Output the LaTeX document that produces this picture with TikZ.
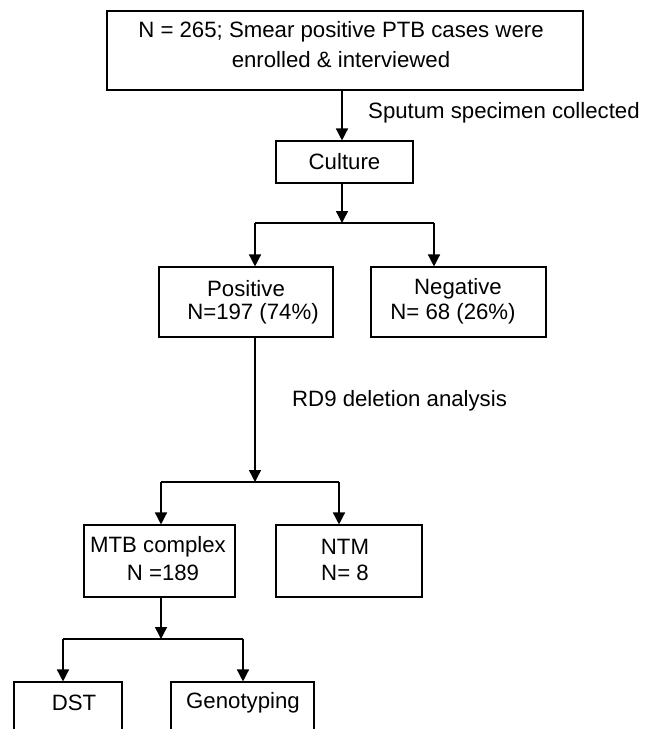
\documentclass[tikz,border=0pt]{standalone}
\usepackage{fontspec}
\setmainfont{Liberation Sans}
\usetikzlibrary{arrows.meta}
\begin{document}
\begin{tikzpicture}[x=1pt,y=-1pt,
  box/.style={draw,line width=1.1pt,minimum width=#1,inner sep=0pt},
  lbl/.style={inner sep=0pt,font=\fontsize{22.2}{26}\selectfont},
  conn/.style={line width=1.4pt},
  arr/.style={conn,-{Triangle[length=12pt,width=12pt]}}]
\useasboundingbox (0,0) rectangle (653,729);
\clip (0,0) rectangle (653,729);
% boxes
\node[box=476pt,minimum height=79pt] (top) at (345,50.5) {};
\node[box=137pt,minimum height=42pt] (culture) at (344.5,162) {};
\node[box=174pt,minimum height=70pt] (pos) at (246,302) {};
\node[box=175pt,minimum height=70pt] (neg) at (458.5,302) {};
\node[box=151pt,minimum height=72pt] (mtb) at (159.5,561) {};
\node[box=146pt,minimum height=72pt] (ntm) at (349,561) {};
\node[box=108pt,minimum height=78pt] (dst) at (68,721) {};
\node[box=143pt,minimum height=78pt] (geno) at (242.5,721) {};
% texts
\node[lbl] (t1) at (341,32) {N = 265; Smear positive PTB cases were};
\node[lbl] (t2) at (341,60) {enrolled \& interviewed};
\node[lbl] (tc) at (344.5,162) {Culture};
\node[lbl] (tp1) at (246,289) {Positive};
\node[lbl] (tp2) at (253,314) {N=197 (74\%)};
\node[lbl] (tn1) at (458,289) {Negative};
\node[lbl] (tn2) at (453,314) {N= 68 (26\%)};
\node[lbl] (tm1) at (158,547) {MTB complex};
\node[lbl] (tm2) at (163,573) {N =189};
\node[lbl] (tt1) at (345,547) {NTM};
\node[lbl] (tt2) at (345,573) {N= 8};
\node[lbl] (td) at (74,703) {DST};
\node[lbl] (tg) at (243,703) {Genotyping};
\node[lbl,anchor=west] (sput) at (368,113) {Sputum specimen collected};
\node[lbl,anchor=west] (rd9) at (292,401) {RD9 deletion analysis};
% junctions
\coordinate (j1) at (342,223);
\coordinate (jl1) at (255,223);
\coordinate (jr1) at (434,223);
\coordinate (j2) at (255,482);
\coordinate (jl2) at (161,482);
\coordinate (jr2) at (339,482);
\coordinate (j3) at (161,639);
\coordinate (jl3) at (63,639);
\coordinate (jr3) at (243,639);
% connectors
\draw[arr] (top.south -| j1) -- (culture.north -| j1);
\draw[arr] (culture.south -| j1) -- (j1);
\draw[conn] (jl1) -- (jr1);
\draw[arr] (jl1) -- (pos.north -| jl1);
\draw[arr] (jr1) -- (neg.north -| jr1);
\draw[arr] (pos.south -| j2) -- (j2);
\draw[conn] (jl2) -- (jr2);
\draw[arr] (jl2) -- (mtb.north -| jl2);
\draw[arr] (jr2) -- (ntm.north -| jr2);
\draw[arr] (mtb.south -| j3) -- (j3);
\draw[conn] (jl3) -- (jr3);
\draw[arr] (jl3) -- (dst.north -| jl3);
\draw[arr] (jr3) -- (geno.north -| jr3);
\end{tikzpicture}
\end{document}
